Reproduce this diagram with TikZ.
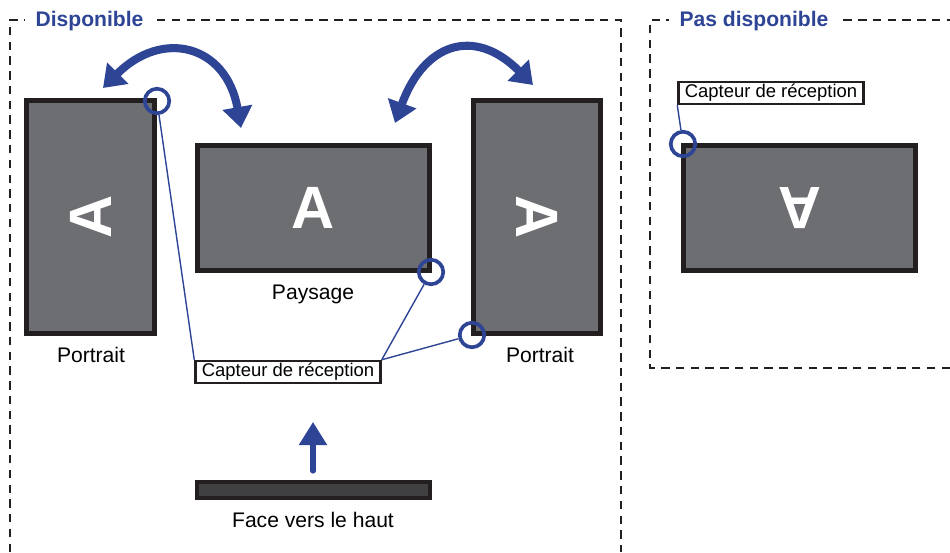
\documentclass[tikz,border=0pt]{standalone}
\usepackage{fontspec}
\setmainfont{Liberation Sans}
\usetikzlibrary{arrows.meta}
\definecolor{sensorblue}{RGB}{46,69,150}
\definecolor{framedark}{RGB}{35,31,32}
\definecolor{screengray}{RGB}{109,110,113}
\definecolor{bargray}{RGB}{64,64,66}
\tikzstyle{zone}=[framedark, line width=1.2pt, dash pattern=on 4.8pt off 3.6pt]
\tikzstyle{zonetitle}=[fill=white, inner xsep=6pt, text=sensorblue, font=\fontsize{12}{14}\selectfont\bfseries]
\tikzstyle{screen}=[rectangle, draw=framedark, fill=screengray, line width=2.8pt, inner sep=0pt, text=white, font=\fontsize{34}{34}\selectfont\bfseries]
\tikzstyle{lbl}=[inner sep=0pt, font=\fontsize{12}{14}\selectfont]
\tikzstyle{sensor}=[circle, draw=sensorblue, line width=2.1pt, minimum size=4.9mm, inner sep=0pt]
\tikzstyle{tag}=[rectangle, draw=framedark, fill=white, line width=1.4pt, minimum width=3.7cm, minimum height=4.4mm, inner sep=0pt, font=\fontsize{10.5}{12}\selectfont]
\tikzstyle{lead}=[sensorblue, line width=0.8pt]
\tikzstyle{turn}=[sensorblue, line width=4.6pt, {Triangle[length=4.2mm,width=5.8mm]}-{Triangle[length=4.2mm,width=5.8mm]}]
\tikzstyle{lift}=[sensorblue, line width=2.9pt, line cap=round, -{Triangle[length=4.6mm,width=5.4mm]}]
\tikzstyle{slab}=[rectangle, draw=framedark, fill=bargray, line width=2.3pt, minimum width=4.66cm, minimum height=3.2mm, inner sep=0pt]
\begin{document}
\begin{tikzpicture}[x=0.2mm, y=0.2mm]
	\useasboundingbox (0,0) rectangle (950,-552);

	%The two zones
	\draw[zone] (10,-552) |- (621,-20) -- (621,-552);
	\draw[zone] (950,-368) -| (650,-20) -- (950,-20);
	\draw (89.5,-21) node[zonetitle] (ok) {Disponible};
	\draw (754,-21) node[zonetitle] (nok) {Pas disponible};

	%The screens
	\draw (90.5,-217) node[screen, minimum width=2.56cm, minimum height=4.66cm] (pl) {\rotatebox{90}{A}};
	\draw (313.5,-208) node[screen, minimum width=4.64cm, minimum height=2.5cm] (ls) {A};
	\draw (537,-217) node[screen, minimum width=2.54cm, minimum height=4.66cm] (pr) {\rotatebox{-90}{A}};
	\draw (799.5,-208) node[screen, minimum width=4.64cm, minimum height=2.5cm] (up) {\rotatebox{180}{A}};

	\draw (91,-355) node[lbl] (pl-l) {Portrait};
	\draw (313,-294) node[lbl] (ls-l) {Paysage};
	\draw (540,-355) node[lbl] (pr-l) {Portrait};

	%The sensors
	\draw (157,-101) node[sensor] (s1) {};
	\draw (431,-272) node[sensor] (s2) {};
	\draw (472,-335) node[sensor] (s3) {};
	\draw (683,-144) node[sensor] (s4) {};

	\draw (288,-372) node[tag] (cap) {Capteur de réception};
	\draw (771,-93) node[tag] (cap2) {Capteur de réception};

	\draw[lead] (s1) -- (cap.north west);
	\draw[lead] (s2) -- (cap.north east);
	\draw[lead] (s3) -- (cap.north east);
	\draw[lead] (cap2.south west) -- (s4);

	%The rotation arrows
	\coordinate (l1) at (103,-88);
	\coordinate (r1) at (241,-128);
	\coordinate (l2) at (395,-123);
	\coordinate (r2) at (533,-85);
	\draw[turn] (l1) to[out=45, in=100, looseness=1.5] (r1);
	\draw[turn] (l2) to[out=70, in=135, looseness=1.5] (r2);

	%The face up view
	\draw (313.5,-490) node[slab] (bar) {};
	\draw (313,-520) node[lbl] (bar-l) {Face vers le haut};
	\coordinate (foot) at (313,-471);
	\coordinate (tip) at (313,-422);
	\draw[lift] (foot) -- (tip);
\end{tikzpicture}
\end{document}
